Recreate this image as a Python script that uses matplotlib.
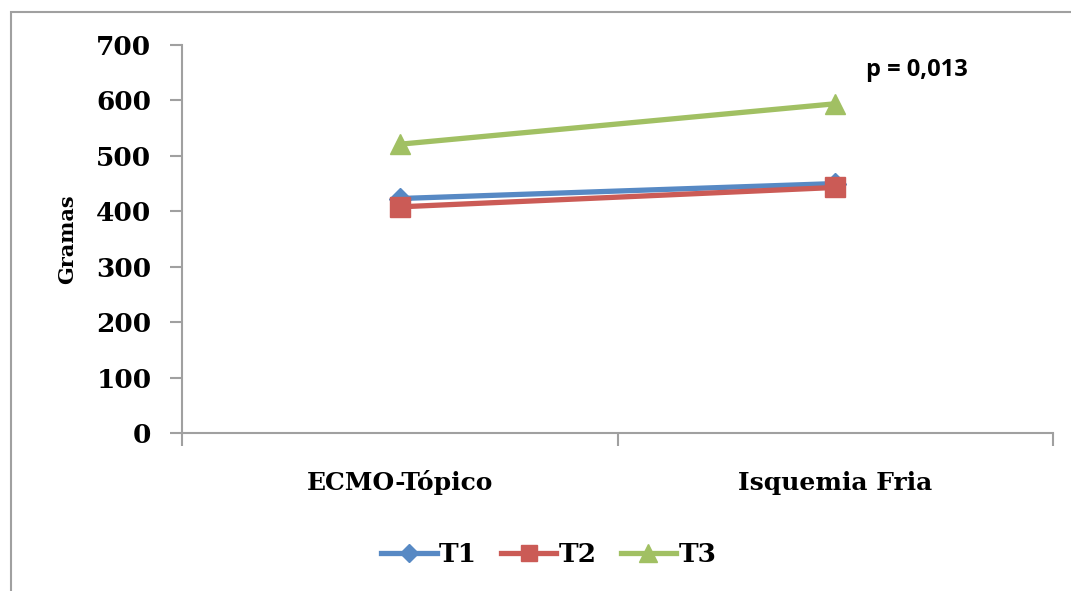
import matplotlib
matplotlib.use("Agg")
import matplotlib.pyplot as plt
from matplotlib.patches import Rectangle

# data
categories = ["ECMO-Tópico", "Isquemia Fria"]
t1 = [423, 450]
t2 = [408, 443]
t3 = [521, 594]
yticks = [0, 100, 200, 300, 400, 500, 600, 700]

plt.rcParams['font.family'] = ['DejaVu Serif']

fig = plt.figure(figsize=(10.71, 5.91), dpi=100)
ax = fig.add_axes([182/1071, 1 - 433/591, (1053 - 182)/1071, (433 - 45)/591])

x = [0.5, 1.5]
ax.plot(x, t1, color="#5789C4", lw=3.8, marker="D", ms=11, label="T1", zorder=3)
ax.plot(x, t2, color="#CB5B56", lw=3.8, marker="s", ms=14, label="T2", zorder=4)
ax.plot(x, t3, color="#A1C063", lw=3.8, marker="^", ms=15, label="T3", zorder=3)

ax.set_xlim(0, 2)
ax.set_ylim(0, 700)
ax.set_yticks(yticks)
ax.set_yticklabels([str(v) for v in yticks], fontsize=19, fontweight="bold")
ax.set_xticks([0, 1, 2])
ax.set_xticklabels([])
for xi, lab in zip(x, categories):
    ax.text(xi, -90, lab, ha="center", va="center", fontsize=18, fontweight="bold",
            transform=ax.transData)

ax.tick_params(axis="both", direction="out", length=9, width=1.5, color="#A0A0A0")
ax.tick_params(axis="y", pad=13)
for s in ["top", "right"]:
    ax.spines[s].set_visible(False)
for s in ["left", "bottom"]:
    ax.spines[s].set_color("#A0A0A0")
    ax.spines[s].set_linewidth(1.5)

ax.set_ylabel("Gramas", fontsize=15, fontweight="bold", labelpad=14)

fig.text(866/1071, 1 - 70/591, "p = 0,013", fontsize=17, fontweight="bold",
         family="Open Sans", va="center", ha="left")

leg = fig.legend(loc="center", bbox_to_anchor=(549/1071, 1 - 555/591), ncol=3, frameon=False,
                 prop={"size": 19, "weight": "bold"}, handlelength=2.1,
                 handletextpad=0.1, columnspacing=0.9)
for h in leg.legend_handles:
    h.set_markersize(h.get_markersize() * 0.85)

# chart border (cut off at right and bottom)
fig.add_artist(Rectangle((11/1071, -0.2), 1.2, 1.2 - 12/591, transform=fig.transFigure,
                         fill=False, edgecolor="#A0A0A0", lw=1.5, clip_on=False))

fig.savefig("out.png", dpi=100)
